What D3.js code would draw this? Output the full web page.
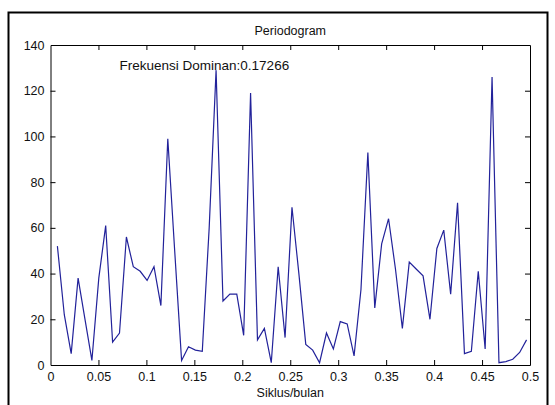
<!DOCTYPE html>
<html>
<head>
<meta charset="utf-8">
<script src="https://cdn.jsdelivr.net/npm/d3@7"></script>
<style>
  html, body { margin: 0; padding: 0; background: #fff; }
  svg { display: block; }
  text { font-family: "Liberation Sans", Arial, sans-serif; }
</style>
</head>
<body>
<svg id="chart" width="555" height="405"></svg>
<script>
// ---- data ----
const N = 139; // frequencies k/N, k = 1..69
const harmonics = d3.range(1, 70);
const power = [
  52, 22, 5, 38, 20, 2, 38, 61, 10, 14,
  56, 43, 41, 37, 43, 26, 99, 50, 2, 8,
  6.5, 6, 60, 129, 28, 31, 31, 13, 119, 11,
  16, 1, 43, 12, 69, 40, 9, 6.5, 1, 14,
  7, 19, 18, 4, 33, 93, 25, 53, 64, 42,
  16, 45, 42, 39, 20, 51, 59, 31, 71, 5,
  6, 41, 7, 126, 1, 1.5, 2.5, 5.5, 11
];
const xTicks = [0, 0.05, 0.1, 0.15, 0.2, 0.25, 0.3, 0.35, 0.4, 0.45, 0.5];
const yTicks = [0, 20, 40, 60, 80, 100, 120, 140];
const titleText = "Periodogram";
const xLabelText = "Siklus/bulan";
const noteText = "Frekuensi Dominan:0.17266";
const noteX = 0.072, noteY = 131;

// ---- layout ----
const svg = d3.select("#chart");
const L = 50.5, R = 530, T = 45, B = 365;
const x = d3.scaleLinear().domain([0, 0.5]).range([L, R]);
const y = d3.scaleLinear().domain([0, 140]).range([B, T]);

// outer figure frame
svg.append("rect").attr("x", 8.5).attr("y", 12.5).attr("width", 539).attr("height", 420)
  .attr("fill", "#fff").attr("stroke", "#000").attr("stroke-width", 2);

const fmt = d => String(+d.toFixed(2));

// bottom axis
const gx = svg.append("g").attr("transform", `translate(0,${B})`)
  .call(d3.axisBottom(x).tickValues(xTicks).tickFormat(fmt).tickSizeInner(-5).tickSizeOuter(0).tickPadding(7));
// top axis (no labels)
const gxt = svg.append("g").attr("transform", `translate(0,${T})`)
  .call(d3.axisTop(x).tickValues(xTicks).tickFormat("").tickSizeInner(-5).tickSizeOuter(0));
// left axis
const gy = svg.append("g").attr("transform", `translate(${L},0)`)
  .call(d3.axisLeft(y).tickValues(yTicks).tickFormat(fmt).tickSizeInner(-5).tickSizeOuter(0).tickPadding(6));
// right axis (no labels)
const gyr = svg.append("g").attr("transform", `translate(${R},0)`)
  .call(d3.axisRight(y).tickValues(yTicks).tickFormat("").tickSizeInner(-5).tickSizeOuter(0));

[gx, gxt, gy, gyr].forEach(g => {
  g.selectAll("path.domain").attr("stroke", "#000");
  g.selectAll(".tick line").attr("stroke", "#000");
  g.selectAll("text").attr("font-size", 12.5).attr("fill", "#111")
    .attr("font-family", "'Liberation Sans', Arial, sans-serif");
});
// hide end ticks on edges that coincide with the box
gx.selectAll(".tick line").filter(d => d === 0 || d === 0.5).remove();
gxt.selectAll(".tick line").filter(d => d === 0 || d === 0.5).remove();
gy.selectAll(".tick line").filter(d => d === 0 || d === 140).remove();
gyr.selectAll(".tick line").filter(d => d === 0 || d === 140).remove();

// data line
const line = d3.line()
  .x((d, i) => x(harmonics[i] / N))
  .y(d => y(d));
svg.append("path").datum(power)
  .attr("fill", "none").attr("stroke", "#22229a").attr("stroke-width", 1.2)
  .attr("stroke-linejoin", "miter")
  .attr("d", line);

// texts
svg.append("text").attr("x", (L + R) / 2).attr("y", 35).attr("text-anchor", "middle")
  .attr("font-size", 12.5).attr("fill", "#111").text(titleText);
svg.append("text").attr("x", (L + R) / 2).attr("y", 397).attr("text-anchor", "middle")
  .attr("font-size", 12.5).attr("fill", "#111").text(xLabelText);
svg.append("text").attr("x", x(noteX)).attr("y", y(noteY) + 4)
  .attr("font-size", 13.5).attr("fill", "#111").text(noteText);
</script>
</body>
</html>
